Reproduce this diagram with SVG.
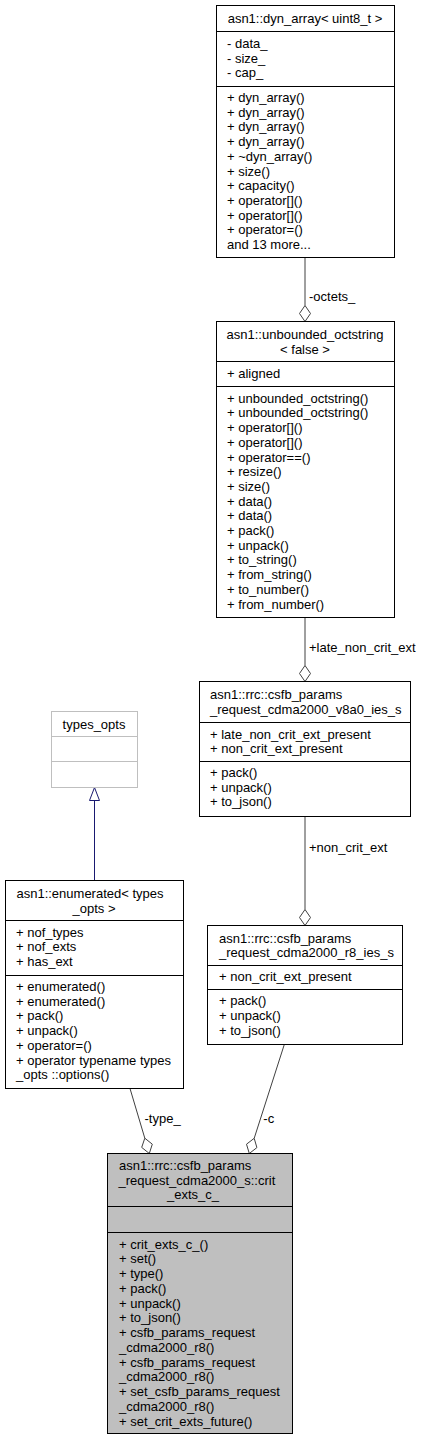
<svg xmlns="http://www.w3.org/2000/svg" width="423" height="1440" viewBox="0 0 423 1440">
<style>
text{font-family:"Liberation Sans",Arial,sans-serif;font-size:13px;fill:#000}
.box{fill:#fff;stroke:#000;stroke-width:1}
.sep{stroke:#000;stroke-width:1}
.gbox{fill:#fff;stroke:#bfbfbf;stroke-width:1}
.gsep{stroke:#bfbfbf;stroke-width:1}
.cur{fill:#bfbfbf;stroke:#000;stroke-width:1}
.mid{text-anchor:middle}
.edge{fill:none;stroke:#404040;stroke-width:1}
.dia{fill:#fff;stroke:#404040;stroke-width:1}
.inh{fill:none;stroke:#191970;stroke-width:1}
.tri{fill:#fff;stroke:#191970;stroke-width:1}
</style>
<rect width="423" height="1440" fill="#fff"/>
<g id="connectors">
  <path class="edge" d="M305,257.5 L305,305.5"/>
  <polygon class="dia" points="305,321.5 310.5,313.5 305,305.5 299.5,313.5"/>
  <text x="309" y="301">-octets_</text>
  <path class="edge" d="M305,617.5 L305,665.5"/>
  <polygon class="dia" points="305,681.5 310.5,673.5 305,665.5 299.5,673.5"/>
  <text x="309" y="652">+late_non_crit_ext</text>
  <path class="edge" d="M305,816.5 L305,909.5"/>
  <polygon class="dia" points="305,925.5 310.5,917.5 305,909.5 299.5,917.5"/>
  <text x="309" y="852">+non_crit_ext</text>
  <path class="inh" d="M94.5,880.5 L94.5,800.5"/>
  <polygon class="tri" points="94.5,787.5 99.5,800.5 89.5,800.5"/>
  <path class="edge" d="M130,1088.5 L144.8,1138.2"/>
  <polygon class="dia" points="149.3,1153.5 152.3,1144.2 144.8,1138.2 141.7,1147.4"/>
  <text x="144.5" y="1123.3">-type_</text>
  <path class="edge" d="M284.3,1044.5 L254.2,1138.3"/>
  <polygon class="dia" points="249.3,1153.5 256.9,1147.6 254.2,1138.3 246.5,1144.2"/>
  <text x="263.3" y="1123.3">-c</text>
</g>
<g id="dyn_array">
  <rect class="box" x="216.5" y="5.5" width="178" height="252"/>
  <line class="sep" x1="216.5" y1="31.5" x2="394.5" y2="31.5"/>
  <line class="sep" x1="216.5" y1="86.5" x2="394.5" y2="86.5"/>
  <text class="mid" x="305" y="23.3">asn1::dyn_array&lt; uint8_t &gt;</text>
  <text x="227" y="48">- data_</text>
  <text x="227" y="62.7">- size_</text>
  <text x="227" y="77.4">- cap_</text>
  <text x="227" y="102">+ dyn_array()</text>
  <text x="227" y="116.7">+ dyn_array()</text>
  <text x="227" y="131.4">+ dyn_array()</text>
  <text x="227" y="146.1">+ dyn_array()</text>
  <text x="227" y="160.8">+ ~dyn_array()</text>
  <text x="227" y="175.5">+ size()</text>
  <text x="227" y="190.2">+ capacity()</text>
  <text x="227" y="204.9">+ operator[]()</text>
  <text x="227" y="219.6">+ operator[]()</text>
  <text x="227" y="234.3">+ operator=()</text>
  <text x="227" y="249">and 13 more...</text>
</g>
<g id="unbounded_octstring">
  <rect class="box" x="216.5" y="321.5" width="178" height="296"/>
  <line class="sep" x1="216.5" y1="361.5" x2="394.5" y2="361.5"/>
  <line class="sep" x1="216.5" y1="386.5" x2="394.5" y2="386.5"/>
  <text class="mid" x="305" y="339">asn1::unbounded_octstring</text>
  <text class="mid" x="305" y="353.5">&lt; false &gt;</text>
  <text x="227" y="377.7">+ aligned</text>
  <text x="227" y="402.7">+ unbounded_octstring()</text>
  <text x="227" y="417.4">+ unbounded_octstring()</text>
  <text x="227" y="432.1">+ operator[]()</text>
  <text x="227" y="446.8">+ operator[]()</text>
  <text x="227" y="461.5">+ operator==()</text>
  <text x="227" y="476.2">+ resize()</text>
  <text x="227" y="490.9">+ size()</text>
  <text x="227" y="505.6">+ data()</text>
  <text x="227" y="520.3">+ data()</text>
  <text x="227" y="535">+ pack()</text>
  <text x="227" y="549.7">+ unpack()</text>
  <text x="227" y="564.4">+ to_string()</text>
  <text x="227" y="579.1">+ from_string()</text>
  <text x="227" y="593.8">+ to_number()</text>
  <text x="227" y="608.5">+ from_number()</text>
</g>
<g id="v8a0_ies">
  <rect class="box" x="199.5" y="681.5" width="211" height="135"/>
  <line class="sep" x1="199.5" y1="722.5" x2="410.5" y2="722.5"/>
  <line class="sep" x1="199.5" y1="761.5" x2="410.5" y2="761.5"/>
  <text x="210" y="699.3">asn1::rrc::csfb_params</text>
  <text x="210" y="714">_request_cdma2000_v8a0_ies_s</text>
  <text x="210" y="738.7">+ late_non_crit_ext_present</text>
  <text x="210" y="753.4">+ non_crit_ext_present</text>
  <text x="210" y="777">+ pack()</text>
  <text x="210" y="791.7">+ unpack()</text>
  <text x="210" y="806.4">+ to_json()</text>
</g>
<g id="types_opts">
  <rect class="gbox" x="51.5" y="711.5" width="86" height="76"/>
  <line class="gsep" x1="51.5" y1="736.5" x2="137.5" y2="736.5"/>
  <line class="gsep" x1="51.5" y1="761.5" x2="137.5" y2="761.5"/>
  <text class="mid" x="94" y="728.6">types_opts</text>
</g>
<g id="enumerated">
  <rect class="box" x="5.5" y="880.5" width="178" height="208"/>
  <line class="sep" x1="5.5" y1="920.5" x2="183.5" y2="920.5"/>
  <line class="sep" x1="5.5" y1="975.5" x2="183.5" y2="975.5"/>
  <text class="mid" x="90" y="898.3">asn1::enumerated&lt; types</text>
  <text class="mid" x="94" y="913">_opts &gt;</text>
  <text x="16" y="936.5">+ nof_types</text>
  <text x="16" y="951.2">+ nof_exts</text>
  <text x="16" y="965.9">+ has_ext</text>
  <text x="16" y="991">+ enumerated()</text>
  <text x="16" y="1005.7">+ enumerated()</text>
  <text x="16" y="1020.4">+ pack()</text>
  <text x="16" y="1035.1">+ unpack()</text>
  <text x="16" y="1049.8">+ operator=()</text>
  <text x="16" y="1064.5">+ operator typename types</text>
  <text x="16" y="1079.2">_opts ::options()</text>
</g>
<g id="r8_ies">
  <rect class="box" x="207.5" y="925.5" width="195" height="119"/>
  <line class="sep" x1="207.5" y1="965.5" x2="402.5" y2="965.5"/>
  <line class="sep" x1="207.5" y1="989.5" x2="402.5" y2="989.5"/>
  <text x="219" y="942.6">asn1::rrc::csfb_params</text>
  <text x="219" y="957.3">_request_cdma2000_r8_ies_s</text>
  <text x="219" y="981">+ non_crit_ext_present</text>
  <text x="219" y="1005.3">+ pack()</text>
  <text x="219" y="1020">+ unpack()</text>
  <text x="219" y="1034.7">+ to_json()</text>
</g>
<g id="crit_exts_c">
  <rect class="cur" x="107.5" y="1153.5" width="185" height="280"/>
  <line class="sep" x1="107.5" y1="1206.5" x2="292.5" y2="1206.5"/>
  <line class="sep" x1="107.5" y1="1232.5" x2="292.5" y2="1232.5"/>
  <text x="119" y="1170">asn1::rrc::csfb_params</text>
  <text x="118.5" y="1184.7">_request_cdma2000_s::crit</text>
  <text class="mid" x="193" y="1199.4">_exts_c_</text>
  <text x="119" y="1248.7">+ crit_exts_c_()</text>
  <text x="119" y="1263.45">+ set()</text>
  <text x="119" y="1278.2">+ type()</text>
  <text x="119" y="1292.95">+ pack()</text>
  <text x="119" y="1307.7">+ unpack()</text>
  <text x="119" y="1322.45">+ to_json()</text>
  <text x="119" y="1337.2">+ csfb_params_request</text>
  <text x="119" y="1351.95">_cdma2000_r8()</text>
  <text x="119" y="1366.7">+ csfb_params_request</text>
  <text x="119" y="1381.45">_cdma2000_r8()</text>
  <text x="119" y="1396.2">+ set_csfb_params_request</text>
  <text x="119" y="1410.95">_cdma2000_r8()</text>
  <text x="119" y="1425.7">+ set_crit_exts_future()</text>
</g>
</svg>
